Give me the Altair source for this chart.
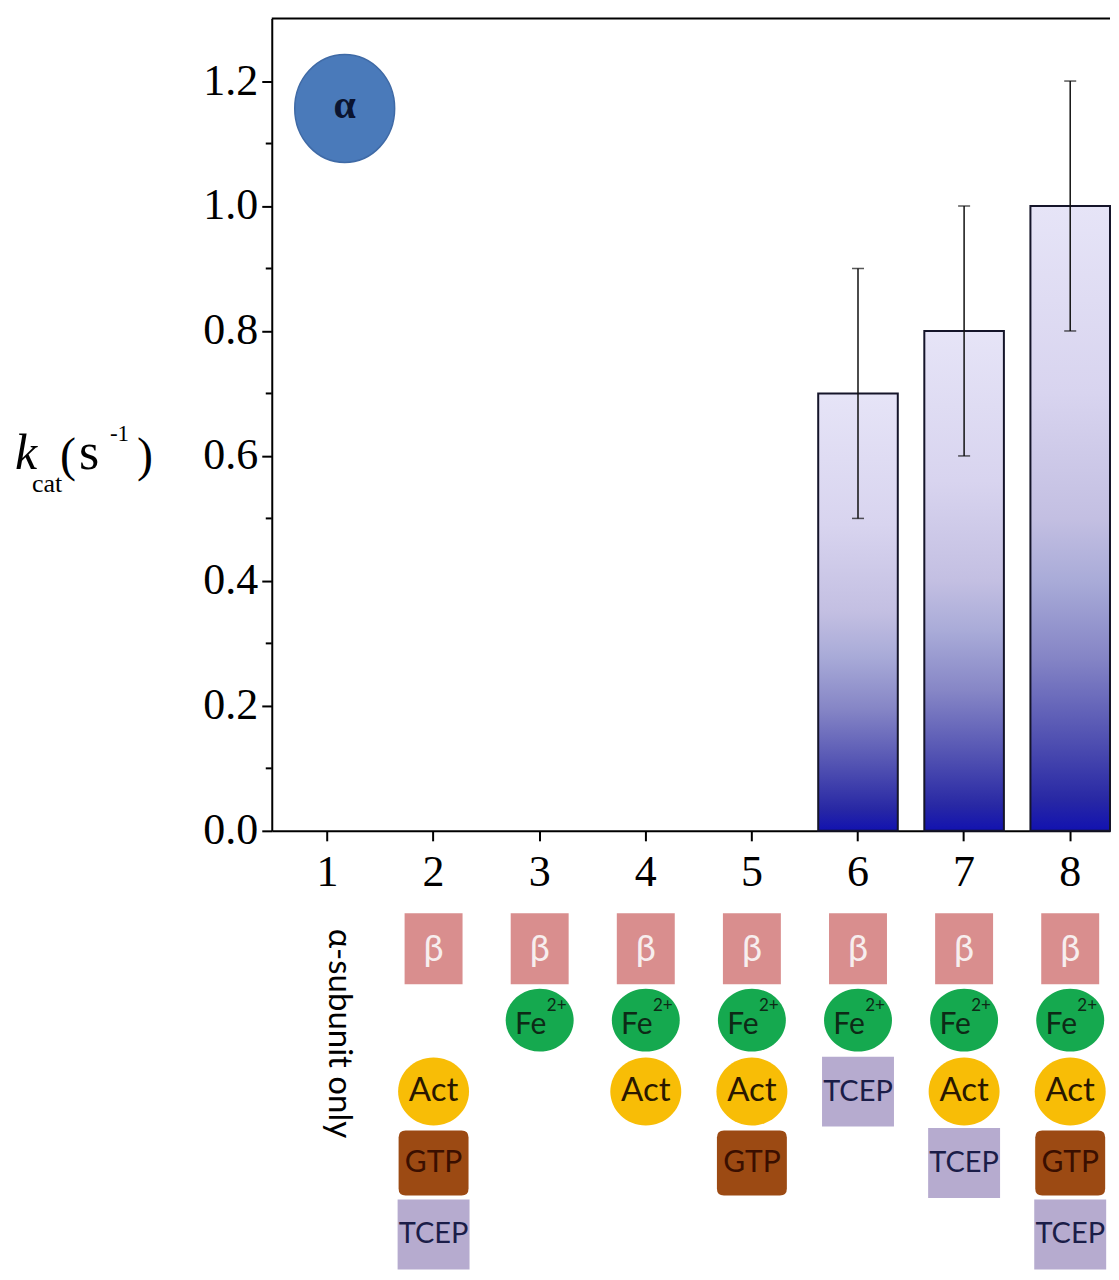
import altair as alt
import pandas as pd

# ---------------- data ----------------
conditions = ["1", "2", "3", "4", "5", "6", "7", "8"]
kcat = [0.0, 0.0, 0.0, 0.0, 0.0, 0.70, 0.80, 1.00]
err_low = [None, None, None, None, None, 0.50, 0.60, 0.80]
err_high = [None, None, None, None, None, 0.90, 1.00, 1.20]

y_major = [0.0, 0.2, 0.4, 0.6, 0.8, 1.0, 1.2]
y_minor = [0.1, 0.3, 0.5, 0.7, 0.9, 1.1]

icon_cond = ["2", "3", "4", "5", "6", "7", "8",
             "3", "4", "5", "6", "7", "8",
             "2", "4", "5", "7", "8",
             "2", "5", "8",
             "2", "6", "7", "8"]
icon_kind = ["β"] * 7 + ["Fe"] * 6 + ["Act"] * 5 + ["GTP"] * 3 + ["TCEP"] * 4
icon_row = [0] * 7 + [1] * 6 + [2] * 5 + [3] * 3 + [4, 2, 3, 4]

only_text = ["α-subunit only"]
badge_text = ["α"]
title_parts = ["k", "cat", "(", "s", "-1", ")"]

# ---------------- layout / style ----------------
W, H = 839, 813
SERIF = "Liberation Serif"
SANS = "Lato"

bars_df = pd.DataFrame({"cond": conditions, "kcat": kcat})
err_df = pd.DataFrame({"cond": conditions, "lo": err_low, "hi": err_high}).dropna()
minor_df = pd.DataFrame({"v": y_minor})
icons_df = pd.DataFrame({"cond": icon_cond, "kind": icon_kind, "row": icon_row})
one_df = pd.DataFrame({"cond": ["1"], "t": only_text, "b": badge_text})
title_df = pd.DataFrame({"part": title_parts})

xscale = alt.Scale(domain=conditions, paddingInner=0.25, paddingOuter=0.075, align=1)
yscale = alt.Scale(domain=[0, 1.3], nice=False, zero=False)

x_axis = alt.Axis(title=None, labelAngle=0, labelFont=SERIF, labelFontSize=44,
                  labelColor="black", labelPadding=10, tickSize=10, tickWidth=2,
                  tickColor="black", domainColor="black", domainWidth=2, grid=False)
y_axis = alt.Axis(title=None, values=y_major, format=".1f", labelFont=SERIF,
                  labelFontSize=44, labelColor="black", labelPadding=4, tickSize=10,
                  tickWidth=2, tickColor="black", domainColor="black", domainWidth=2,
                  grid=False)

X = alt.X("cond:N", scale=xscale, axis=x_axis, sort=conditions)


def Yq(field):
    return alt.Y(field, scale=yscale, axis=y_axis)


grad = alt.LinearGradient(
    gradient="linear",
    stops=[
        alt.GradientStop(color="#e6e4f7", offset=0.0),
        alt.GradientStop(color="#d8d4ef", offset=0.3),
        alt.GradientStop(color="#c3bfe2", offset=0.5),
        alt.GradientStop(color="#a9abd8", offset=0.6),
        alt.GradientStop(color="#8686c6", offset=0.72),
        alt.GradientStop(color="#5252b2", offset=0.85),
        alt.GradientStop(color="#2828a4", offset=0.95),
        alt.GradientStop(color="#1212b0", offset=1.0),
    ],
    x1=0, x2=0, y1=0, y2=1,
)

bars = alt.Chart(bars_df).transform_filter("datum.kcat > 0").mark_bar(
    color=grad, stroke="#15152a", strokeWidth=2
).encode(x=X, y=Yq("kcat:Q"))

err_rule = alt.Chart(err_df).mark_rule(color="#111111", strokeWidth=1.5).encode(
    x=X, y=Yq("lo:Q"), y2="hi:Q")
cap_lo = alt.Chart(err_df).mark_tick(color="#111111", thickness=1.5, size=12).encode(
    x=X, y=Yq("lo:Q"))
cap_hi = alt.Chart(err_df).mark_tick(color="#111111", thickness=1.5, size=12).encode(
    x=X, y=Yq("hi:Q"))

minor = alt.Chart(minor_df).mark_rule(color="black", strokeWidth=2).encode(
    y=Yq("v:Q"), x=alt.value(-6), x2=alt.value(0))

top_line = alt.Chart(minor_df.head(1)).mark_rule(color="black", strokeWidth=2).encode(
    x=alt.value(0), x2=alt.value(W), y=alt.value(0))

badge = alt.Chart(one_df).mark_point(
    shape="M-1,0A1,1.08 0 1 1 1,0A1,1.08 0 1 1 -1,0Z", size=10000, filled=True,
    fill="#4a7aba", stroke="#3f6aa6", strokeWidth=1.5, opacity=1
).encode(x=alt.value(73), y=alt.value(90))
badge_lbl = alt.Chart(one_df).mark_text(
    font=SERIF, fontSize=40, fontWeight="bold", color="#0b1430", align="center",
    baseline="middle"
).encode(x=alt.value(73), y=alt.value(88), text="b:N")

# y-axis title made of pieces (k italic, subscript, superscript)
tp = [
    dict(i=0, x=-257, y=451, size=50, style="italic"),
    dict(i=1, x=-240, y=474, size=26, style="normal"),
    dict(i=2, x=-212, y=453, size=48, style="normal"),
    dict(i=3, x=-193, y=451, size=52, style="normal"),
    dict(i=4, x=-162, y=423, size=23, style="normal"),
    dict(i=5, x=-135, y=453, size=48, style="normal"),
]
title_layers = []
for p in tp:
    title_layers.append(
        alt.Chart(title_df.iloc[[p["i"]]]).mark_text(
            font=SERIF, fontSize=p["size"], fontStyle=p["style"], color="black",
            align="left", baseline="alphabetic"
        ).encode(x=alt.value(p["x"]), y=alt.value(p["y"]), text="part:N")
    )

main = alt.layer(bars, err_rule, cap_lo, cap_hi, minor, top_line, badge, badge_lbl,
                 *title_layers)

# ---------------- icon table under the axis ----------------
YI = alt.Y("row:O", scale=alt.Scale(type="point", domain=[0, 1, 2, 3, 4],
                                    range=[931, 1217], padding=0), axis=None)

styles = {
    "β": dict(shape="M-0.817,-1H0.817V1H-0.817Z", size=5041, fill="#d98e8e",
              tcolor="#f7eeee", fsize=36, dx=0, dy=1),
    "Fe": dict(shape="M-1,0A1,0.926 0 1 1 1,0A1,0.926 0 1 1 -1,0Z", size=4624,
               fill="#15a94f", tcolor="#0d2a16", fsize=30, dx=-9, dy=5),
    "Act": dict(shape="M-1,0A1,0.958 0 1 1 1,0A1,0.958 0 1 1 -1,0Z", size=5041,
                fill="#f8bd06", tcolor="#2a1800", fsize=33, dx=0, dy=-1),
    "GTP": dict(shape="M-0.8,-0.929H0.8Q1,-0.929 1,-0.729V0.729Q1,0.929 0.8,0.929"
                      "H-0.8Q-1,0.929 -1,0.729V-0.729Q-1,-0.929 -0.8,-0.929Z",
                size=4900, fill="#9c4a13", tcolor="#3a0f00", fsize=30, dx=0, dy=0),
    "TCEP": dict(shape="M-1,-0.972H1V0.972H-1Z", size=5184, fill="#b6abcf",
                 tcolor="#1b1d48", fsize=29, dx=0, dy=0),
}

icon_layers = []
for kind, s in styles.items():
    sub = alt.Chart(icons_df).transform_filter(alt.datum.kind == kind)
    icon_layers.append(
        sub.mark_point(shape=s["shape"], size=s["size"], filled=True, fill=s["fill"],
                       opacity=1, strokeWidth=0).encode(x=X, y=YI))
    icon_layers.append(
        sub.mark_text(font=SANS, fontSize=s["fsize"], color=s["tcolor"], align="center",
                      baseline="middle", dx=s["dx"], dy=s["dy"]).encode(
            x=X, y=YI, text="kind:N"))
    if kind == "Fe":
        icon_layers.append(
            sub.mark_text(font=SANS, fontSize=17, color=s["tcolor"], align="center",
                          baseline="middle", dx=17, dy=-14, text="2+").encode(x=X, y=YI))

only_lbl = alt.Chart(one_df).mark_text(
    font=SANS, fontSize=33, color="black", angle=90, align="left", baseline="middle",
    dy=-12
).encode(x=X, y=alt.value(911), text="t:N")

icons = alt.layer(*icon_layers, only_lbl)

chart = alt.layer(main, icons).resolve_scale(y="independent").properties(
    width=W, height=H,
    padding={"left": 7, "top": 9, "right": 0, "bottom": 0},
).configure_view(stroke=None)

chart.save("out.html", embed_options={"renderer": "svg", "actions": False})
